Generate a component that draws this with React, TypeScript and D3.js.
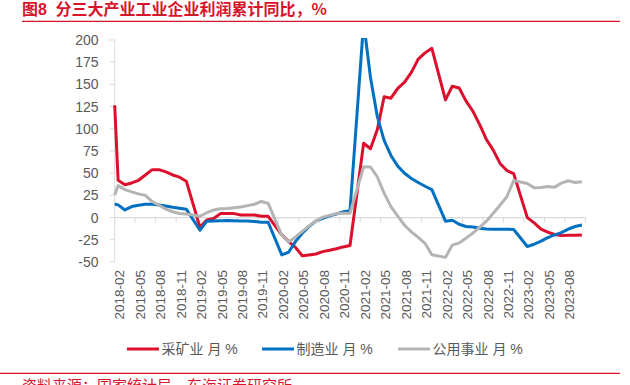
import React from "react";
import * as d3 from "d3";

// ---------- DATA ----------
// months from 2017-12 to 2023-10 (January values are not published -> null)
const months: string[] = (() => {
  const out: string[] = ["2017-12"];
  for (let y = 2018; y <= 2023; y++) {
    for (let m = 1; m <= 12; m++) {
      if (y === 2023 && m > 10) break;
      out.push(`${y}-${String(m).padStart(2, "0")}`);
    }
  }
  return out;
})();

// 采矿业 (mining), cumulative YoY %
const mining: (number | null)[] = [
  380, null,
  42, 37, 39, 42, 48, 54, 54, 51.5, 48, 45.5, 41,
  null, -11, -2.6, -1, 4.5, 4.5, 4.5, 3, 3, 3, 1.5, 1.5,
  null, -19.5, -27, -33.5, -43, -42, -41, -38.3, -36.8, -35, -33, -31.5,
  null, 83.7, 77.5, 99, 136, 134.5, 145.6, 152.5, 163.5, 178.5, 185.5, 190.7,
  null, 132.5, 148, 146, 131.5, 120, 105, 88, 76, 61, 53, 49.5,
  null, 0, -6, -13, -16.3, -19, -20.3, -20, -19.8, -19.5,
];

// 制造业 (manufacturing)
const manufacturing: (number | null)[] = [
  18, null,
  14.3, 8.6, 12.4, 14, 15, 15, 14.3, 13, 11.6, 10.5, 9.5,
  null, -14.3, -4, -3.8, -3.6, -3.4, -3.6, -3.8, -3.8, -4.5, -5.3, -5.2,
  null, -42, -39, -27, -17.6, -10, -3.8, -0.8, 1.9, 4, 6.5, 7.6,
  null, 220, 158, 114, 87, 70, 58, 50, 44, 39.5, 35.3, 31.6,
  null, -4, -3, -7.5, -10, -10.7, -12, -12.8, -13, -13, -13, -13.4,
  null, -32.5, -30, -26.5, -22.5, -19.5, -17, -13, -10, -8.3,
];

// 公用事业 (utilities)
const utilities: (number | null)[] = [
  -6, null,
  36, 31.5, 29, 26.7, 25, 18, 13.9, 9.6, 6.6, 4.7, 4,
  null, 1.5, 5.5, 8.5, 10, 10.3, 11.2, 12, 13.5, 15, 18.2, 16,
  null, -20, -27.5, -22, -15.5, -9.4, -3.8, 0.5, 2.5, 4.5, 5, 4.9,
  null, 57.4, 57, 46, 27.5, 12.4, 1.7, -8.6, -16, -22.2, -29, -41.9,
  null, -44.8, -31, -28.5, -23.3, -17.5, -11, -4, 5, 14, 23.5, 41.8,
  null, 38.5, 33.5, 34, 35, 34.3, 38.8, 41.5, 39.6, 40.5,
];

const yTicks: number[] = [-50, -25, 0, 25, 50, 75, 100, 125, 150, 175, 200];

const seriesNames: string[] = ["采矿业 月 %", "制造业 月 %", "公用事业 月 %"];
const seriesData = [mining, manufacturing, utilities];
const seriesColors: string[] = ["#dc0f2d", "#0070c0", "#b4b4b4"];

const titleLead = "图8";
const titleText = "分三大产业工业企业利润累计同比，%";
const sourceText = "资料来源：国家统计局，东海证券研究所";

// ---------- LAYOUT ----------
const W = 630;
const H = 385;
const plotLeft = 114.7;
const plotRight = 585.3;
const plotTop = 40;
const plotBottom = 262;
const FONT = "'Liberation Sans', Arial, 'Noto Sans CJK SC', sans-serif";
const CJK = "'Noto Sans CJK SC', 'Liberation Sans', sans-serif";
const TEXT_GRAY = "#595959";
const AXIS_GRAY = "#d9d9d9";
const RED = "#d7142b";

export default function App() {
  const firstIdx = months.indexOf("2018-02");
  const lastIdx = months.length - 1;
  const x = d3
    .scaleLinear()
    .domain([firstIdx - 0.5, lastIdx + 0.5])
    .range([plotLeft, plotRight]);
  const y = d3.scaleLinear().domain([-50, 200]).range([plotBottom, plotTop]);

  const line = d3.line<[number, number]>();

  const paths = seriesData.map((arr) => {
    const pts: [number, number][] = [];
    arr.forEach((v, i) => {
      if (v !== null && v !== undefined) pts.push([x(i), y(v)]);
    });
    // cut the polyline at the left edge of the plot area (geometric clipping)
    const out: [number, number][] = [];
    for (let j = 0; j < pts.length; j++) {
      const p = pts[j];
      if (p[0] >= plotLeft) {
        if (out.length === 0 && j > 0) {
          const q = pts[j - 1];
          const t = (plotLeft - q[0]) / (p[0] - q[0]);
          out.push([plotLeft, q[1] + t * (p[1] - q[1])]);
        }
        out.push(p);
      }
    }
    return line(out) || "";
  });

  // tick marks every 3 months, at category boundaries
  const xTickPos: number[] = [];
  for (let k = firstIdx - 0.5; k <= lastIdx + 0.5 + 1e-9; k += 3) xTickPos.push(k);
  const xLabelIdx: number[] = [];
  for (let k = firstIdx; k <= lastIdx; k += 3) xLabelIdx.push(k);

  const legendStarts = [127, 262, 398];

  return (
    <svg
      width={W}
      height={H}
      style={{ position: "absolute", left: 0, top: 0, background: "#fff" }}
    >
      <defs>
        <clipPath id="plotClip">
          <rect x={plotLeft - 2} y={plotTop - 2} width={plotRight - plotLeft + 4} height={plotBottom - plotTop + 6} />
        </clipPath>
      </defs>
      <rect x={0} y={0} width={W} height={H} fill="#fff" />

      {/* title */}
      <text x={22} y={14.8} fill={RED} fontFamily={FONT} fontWeight="bold" fontSize={16}>
        {titleLead}
      </text>
      <text x={55.5} y={14.8} fill={RED} fontFamily={CJK} fontWeight="bold" fontSize={16}>
        {titleText}
      </text>
      <line x1={22} x2={620} y1={21.3} y2={21.3} stroke={RED} strokeWidth={1.3} />

      {/* y axis */}
      <line x1={plotLeft} x2={plotLeft} y1={plotTop} y2={plotBottom} stroke={AXIS_GRAY} strokeWidth={1} />
      {yTicks.map((t) => (
        <g key={t}>
          <line x1={plotLeft - 5} x2={plotLeft} y1={y(t)} y2={y(t)} stroke={AXIS_GRAY} strokeWidth={1} />
          <text
            x={98.5}
            y={y(t)}
            textAnchor="end"
            dominantBaseline="central"
            fontFamily={FONT}
            fontSize={14}
            fill={TEXT_GRAY}
          >
            {t}
          </text>
        </g>
      ))}

      {/* x axis at zero */}
      <line x1={plotLeft} x2={plotRight} y1={y(0)} y2={y(0)} stroke={AXIS_GRAY} strokeWidth={1.2} />
      {xTickPos.map((k) => (
        <line key={k} x1={x(k)} x2={x(k)} y1={y(0)} y2={y(0) + 5} stroke={AXIS_GRAY} strokeWidth={1} />
      ))}
      {xLabelIdx.map((k) => (
        <text
          key={k}
          transform={`translate(${x(k) + 1.6},270) rotate(-90)`}
          textAnchor="end"
          dominantBaseline="central"
          fontFamily={FONT}
          fontSize={13.5}
          fill={TEXT_GRAY}
        >
          {months[k]}
        </text>
      ))}

      {/* lines */}
      <g clipPath="url(#plotClip)">
        {paths.map((p, i) => (
          <path
            key={i}
            d={p}
            fill="none"
            stroke={seriesColors[i]}
            strokeWidth={3}
            strokeLinejoin="round"
            strokeLinecap="butt"
          />
        ))}
      </g>

      {/* legend */}
      {seriesNames.map((n, i) => (
        <g key={n}>
          <line
            x1={legendStarts[i]}
            x2={legendStarts[i] + 32}
            y1={349}
            y2={349}
            stroke={seriesColors[i]}
            strokeWidth={3}
          />
          <text
            x={legendStarts[i] + 34.5}
            y={349}
            dominantBaseline="central"
            fontFamily={FONT}
            fontSize={14}
            fill={TEXT_GRAY}
          >
            {n}
          </text>
        </g>
      ))}

      {/* source */}
      <line x1={0} x2={620} y1={373.3} y2={373.3} stroke={RED} strokeWidth={1.3} />
      <text x={22} y={391} fill={RED} fontFamily={CJK} fontSize={15}>
        {sourceText}
      </text>
    </svg>
  );
}
